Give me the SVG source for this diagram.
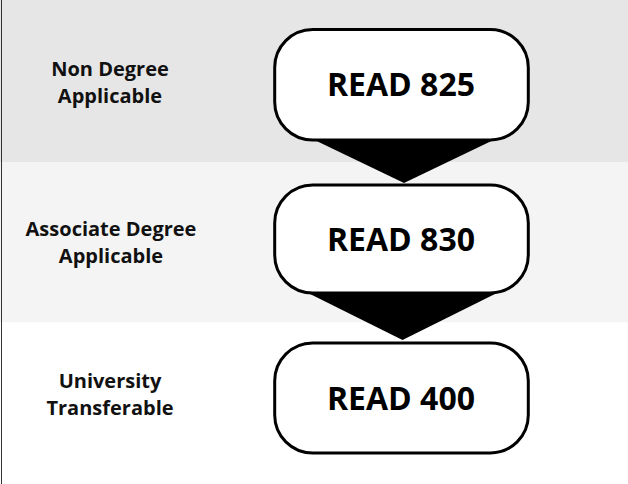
<svg xmlns="http://www.w3.org/2000/svg" width="628" height="484" viewBox="0 0 628 484">
<style>
.band{stroke:none}
.box{fill:#ffffff;stroke:#000000;stroke-width:3}
.lbl{font-family:"Open Sans","DejaVu Sans",sans-serif;font-weight:bold;font-size:20px;fill:#111111;text-anchor:middle}
.num{font-family:"Open Sans","DejaVu Sans",sans-serif;font-weight:bold;font-size:32px;fill:#000000;text-anchor:middle}
.arrow{fill:#000000;stroke:none}
</style>
<g id="bands">
<rect class="band" x="0" y="0" width="628" height="162" fill="#e6e6e6"/>
<rect class="band" x="0" y="162" width="628" height="160.5" fill="#f4f4f4"/>
<rect class="band" x="0" y="322.5" width="628" height="161.5" fill="#ffffff"/>
<line x1="1.5" y1="0" x2="1.5" y2="484" stroke="#333333" stroke-width="1"/>
</g>
<g id="label-non-degree">
<text class="lbl" x="110" y="76">Non Degree</text>
<text class="lbl" x="110" y="103">Applicable</text>
</g>
<g id="label-associate">
<text class="lbl" x="111" y="236">Associate Degree</text>
<text class="lbl" x="111" y="263">Applicable</text>
</g>
<g id="label-university">
<text class="lbl" x="110" y="388">University</text>
<text class="lbl" x="110" y="415">Transferable</text>
</g>
<g id="connectors">
<polygon class="arrow" points="302,134 506,134 404,183"/>
<polygon class="arrow" points="298,288 507,288 402.5,340"/>
</g>
<g id="read825">
<rect class="box" x="274.7" y="29.5" width="253.6" height="110.5" rx="38" ry="38"/>
<text class="num" x="401" y="96">READ 825</text>
</g>
<g id="read830">
<rect class="box" x="274.7" y="185" width="253.6" height="108" rx="38" ry="38"/>
<text class="num" x="401" y="250.5">READ 830</text>
</g>
<g id="read400">
<rect class="box" x="274.7" y="343" width="253.6" height="110" rx="38" ry="38"/>
<text class="num" x="401" y="409.5">READ 400</text>
</g>
</svg>
